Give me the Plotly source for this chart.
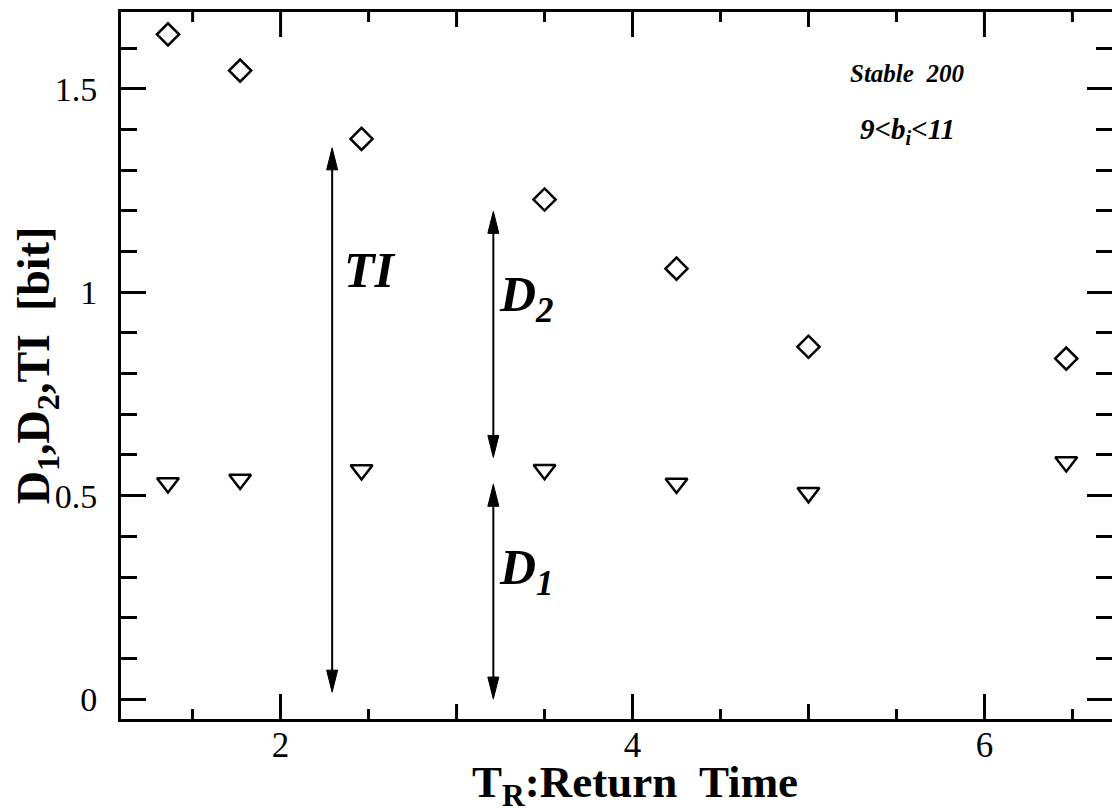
import plotly.graph_objects as go

# ---- data ----
tr = [1.36, 1.77, 2.46, 3.50, 4.25, 5.00, 6.465]
ti = [1.634, 1.545, 1.377, 1.228, 1.058, 0.866, 0.837]   # diamonds (TI)
d1 = [0.531, 0.540, 0.563, 0.564, 0.530, 0.507, 0.583]   # triangles (D1)

# arrows: (x, y_bottom, y_top)
arrow_ti = (2.293, 0.017, 1.355)
arrow_d2 = (3.209, 0.594, 1.199)
arrow_d1 = (3.209, 0.000, 0.528)

x_range = [1.093, 6.725]
y_range = [-0.049, 1.689]
x_major = [2, 4, 6]
x_mid = [3, 5]
x_minor = [1.5, 2.5, 3.5, 4.5, 5.5, 6.5]
y_major = [0, 0.5, 1, 1.5]
y_labels = ["0", "0.5", "1", "1.5"]

FONT = "Liberation Serif"

fig = go.Figure()
fig.add_trace(go.Scatter(x=tr, y=ti, mode="markers",
                         marker=dict(symbol="diamond-open", size=17, color="black",
                                     line=dict(width=2.5, color="black")),
                         showlegend=False))
fig.add_trace(go.Scatter(x=tr, y=d1, mode="markers",
                         marker=dict(symbol="triangle-down-open", size=19, color="black",
                                     line=dict(width=2.5, color="black")),
                         showlegend=False))

# figure geometry (page body has an 8px margin)
W, H = 1112, 802
ml, mr, mt, mb = 113, 8, 4, 91
plot_w = W - ml - mr
plot_h = H - mt - mb
pxx = plot_w / (x_range[1] - x_range[0])
pxy = plot_h / (y_range[1] - y_range[0])
head_len = 22 / pxy
head_hw = 5.5 / pxx

shapes = []
for (x, yb, yt) in [arrow_ti, arrow_d2, arrow_d1]:
    shapes.append(dict(type="line", xref="x", yref="y", x0=x, x1=x,
                       y0=yb + head_len * 0.8, y1=yt - head_len * 0.8,
                       line=dict(color="black", width=2)))
    shapes.append(dict(type="path", xref="x", yref="y",
                       path=f"M{x},{yt} L{x-head_hw},{yt-head_len} L{x+head_hw},{yt-head_len} Z",
                       fillcolor="black", line=dict(color="black", width=1)))
    shapes.append(dict(type="path", xref="x", yref="y",
                       path=f"M{x},{yb} L{x-head_hw},{yb+head_len} L{x+head_hw},{yb+head_len} Z",
                       fillcolor="black", line=dict(color="black", width=1)))

# extra tick marks along the top frame and medium ticks at odd integers,
# placed in data units of the y axis so they sit exactly on the frame
def tick_shape(xv, length_px, top, color="black"):
    dy = length_px / pxy
    if top:
        y0, y1 = y_range[1], y_range[1] - dy
    else:
        y0, y1 = y_range[0], y_range[0] + dy
    return dict(type="line", xref="x", yref="y", x0=xv, x1=xv, y0=y0, y1=y1,
                line=dict(color=color, width=3), layer="above")

for xv in x_mid:
    shapes.append(tick_shape(xv, 15, top=False))
    shapes.append(tick_shape(xv, 15, top=True))
for xv in x_major:
    shapes.append(tick_shape(xv, 25, top=True))
for xv in x_minor:
    shapes.append(tick_shape(xv, 10, top=True))

annotations = [
    dict(x=2.51, y=1.056, text="<b><i>TI</i></b>", showarrow=False,
         font=dict(family=FONT, size=50, color="black")),
    dict(x=3.40, y=0.985, text="<b><i>D<sub>2</sub></i></b>", showarrow=False,
         font=dict(family=FONT, size=50, color="black")),
    dict(x=3.40, y=0.315, text="<b><i>D<sub>1</sub></i></b>", showarrow=False,
         font=dict(family=FONT, size=50, color="black")),
    dict(x=5.56, y=1.539, text="<b><i>Stable  200</i></b>", showarrow=False,
         font=dict(family=FONT, size=25, color="black")),
    dict(x=5.565, y=1.397, text="<b><i>9&lt;b<sub>i</sub>&lt;11</i></b>", showarrow=False,
         font=dict(family=FONT, size=29, color="black")),
    dict(x=0.519, y=-0.093, xref="paper", yref="paper", xanchor="center", yanchor="middle",
         text="<b>T<sub>R</sub>:Return  Time</b>", showarrow=False,
         font=dict(family=FONT, size=45, color="black")),
]

fig.update_layout(
    width=W, height=H,
    margin=dict(l=ml, r=mr, t=mt, b=mb, autoexpand=False),
    paper_bgcolor="white", plot_bgcolor="white",
    shapes=shapes, annotations=annotations,
    font=dict(family=FONT, color="black"),
    xaxis=dict(range=x_range, showgrid=False, zeroline=False, automargin=False,
               showline=True, linewidth=3, linecolor="black", mirror=True,
               side="bottom", ticks="inside", tickvals=x_major, ticklen=25, tickwidth=3,
               tickcolor="black", ticklabelstandoff=-7,
               tickfont=dict(family=FONT, size=35, color="black"),
               minor=dict(tickvals=x_minor, ticklen=10, tickwidth=3,
                          tickcolor="black", ticks="inside", showgrid=False)),
    yaxis=dict(range=y_range, showgrid=False, zeroline=False, automargin=False,
               showline=True, linewidth=3, linecolor="black", mirror="allticks",
               ticks="inside", tickvals=y_major, ticktext=y_labels,
               ticklen=25, tickwidth=3, tickcolor="black", ticklabelstandoff=14,
               tickfont=dict(family=FONT, size=34, color="black"),
               minor=dict(dtick=0.1, tick0=0, ticklen=16, tickwidth=3,
                          tickcolor="black", ticks="inside", showgrid=False),
               title=dict(text="<b>D<sub>1</sub>,D<sub>2</sub>,TI  [bit]</b>", standoff=14,
                          font=dict(family=FONT, size=46, color="black"))),
)

fig.write_html("out.html")
